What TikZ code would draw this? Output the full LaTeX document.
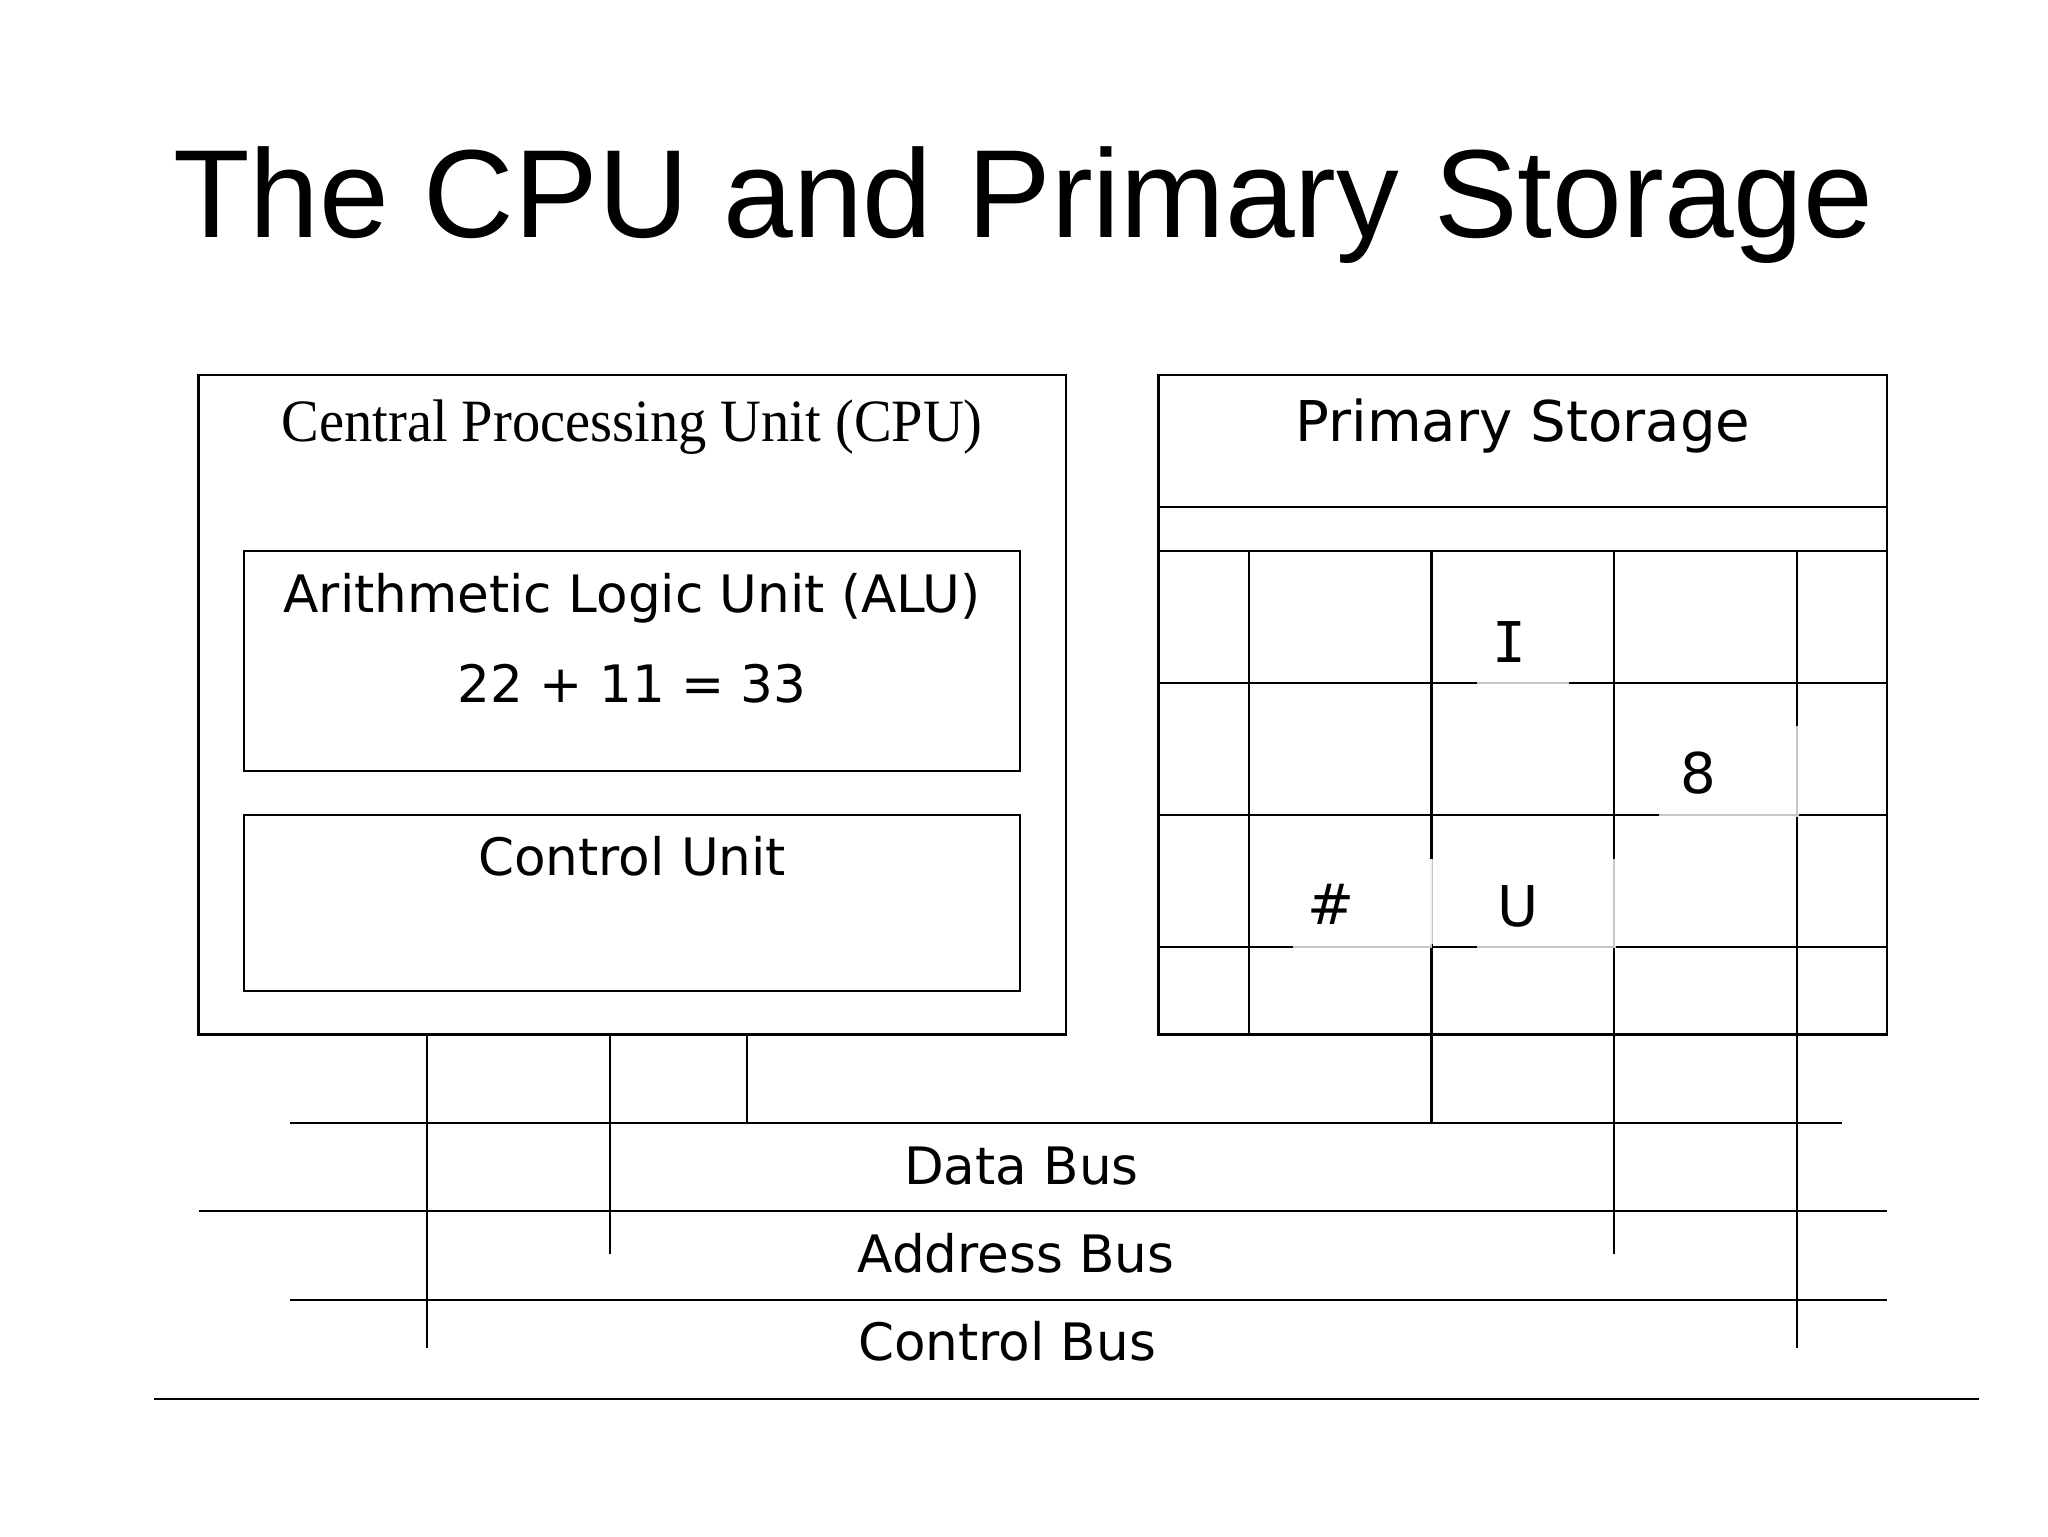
\documentclass[tikz,border=0pt]{standalone}
\usepackage{fontspec}
\newfontfamily\titlefont{Liberation Sans}
\newfontfamily\serfont{Liberation Serif}
\newfontfamily\verdfont{DejaVu Sans}
\newfontfamily\cellmono{DejaVu Sans Mono}
\begin{document}
\begin{tikzpicture}[x=1bp,y=-1bp,line width=1.6bp,
  box/.style={draw,line width=1.6bp,inner sep=0pt},
  txt/.style={anchor=base,inner sep=0pt,font=\verdfont\fontsize{39.5bp}{47bp}\selectfont},
  bigtxt/.style={anchor=base,inner sep=0pt,font=\verdfont\fontsize{43bp}{51bp}\selectfont},
  patch/.style={white,opacity=0.78}]
\useasboundingbox[fill=white] (0,0) rectangle (1568,1176);

% title
\node[anchor=base,inner sep=0pt,font=\titlefont\fontsize{96bp}{110bp}\selectfont] (title) at (783.5,182) {The CPU and Primary Storage};

% CPU
\node[box,minimum width=664bp,minimum height=505bp] (cpu) at (484,539.5) {};
\node[anchor=base,inner sep=0pt,font=\serfont\fontsize{46bp}{54bp}\selectfont] (cpulbl) at (484,338) {\scalebox{0.94}[1]{Central Processing Unit (CPU)}};
\node[box,minimum width=594bp,minimum height=168bp] (alu) at (484,506) {};
\node[txt] (alulbl) at (484,469) {Arithmetic Logic Unit (ALU)};
\node[txt] (sum) at (484,537.5) {22 + 11 = 33};
\node[box,minimum width=594bp,minimum height=135bp] (cu) at (484,691.5) {};
\node[txt] (culbl) at (484,670) {Control Unit};

% Primary storage
\node[box,minimum width=558bp,minimum height=505bp] (ps) at (1166,539.5) {};
\node[bigtxt] (pslbl) at (1166,338) {Primary Storage};
\coordinate (r1) at (887,388);
\coordinate (r2) at (887,422);
\coordinate (r3) at (887,523);
\coordinate (r4) at (887,624);
\coordinate (r5) at (887,725);
\foreach \r in {r1,r2,r3,r4,r5} \draw (\r) -- (\r -| ps.east);
\coordinate (k1) at (956,422);
\coordinate (k2) at (1096,422);
\coordinate (k3) at (1236,422);
\coordinate (k4) at (1376,422);
\foreach \c in {k1,k2,k3,k4} \draw (\c) -- (\c |- ps.south);

% patches behind the cell contents
\fill[patch] (1131,470) rectangle (1201,525);
\fill[patch] (1270,556) rectangle (1377.5,625.5);
\fill[patch] (990,658) rectangle (1096,726);
\fill[patch] (1094.5,658) rectangle (1237.5,723);
\fill[patch] (1131,723) rectangle (1237.5,726);

\node[anchor=base,inner sep=0pt,font=\cellmono\fontsize{43bp}{51bp}\selectfont] (cI) at (1156,507) {I};
\node[bigtxt] (c8) at (1300.5,607.5) {8};
\node[bigtxt] (chash) at (1019,708) {\#};
\node[bigtxt] (cU) at (1162,709) {U};

% buses
\coordinate (db1) at (222,860);  \coordinate (db2) at (1410,860);
\coordinate (ab1) at (152,927);  \coordinate (ab2) at (1445,927);
\coordinate (cb1) at (222,995);  \coordinate (cb2) at (1445,995);
\coordinate (bl1) at (118,1071); \coordinate (bl2) at (1515,1071);
\draw (db1) -- (db2);
\draw (ab1) -- (ab2);
\draw (cb1) -- (cb2);
\draw (bl1) -- (bl2);

\node[txt] (dbl) at (782,906.8) {Data Bus};
\node[txt] (abl) at (778,974.5) {Address Bus};
\node[txt] (cbl) at (771,1041.8) {Control Bus};

% taps
\coordinate (e1) at (327,1032);
\coordinate (e2) at (467,960);
\coordinate (e3) at (572,860);
\coordinate (e4) at (1096,860);
\coordinate (e5) at (1236,960);
\coordinate (e6) at (1376,1032);
\draw (e1 |- cpu.south) -- (e1);
\draw (e2 |- cpu.south) -- (e2);
\draw (e3 |- cpu.south) -- (e3);
\draw (e4 |- ps.south) -- (e4);
\draw (e5 |- ps.south) -- (e5);
\draw (e6 |- ps.south) -- (e6);
\end{tikzpicture}
\end{document}
